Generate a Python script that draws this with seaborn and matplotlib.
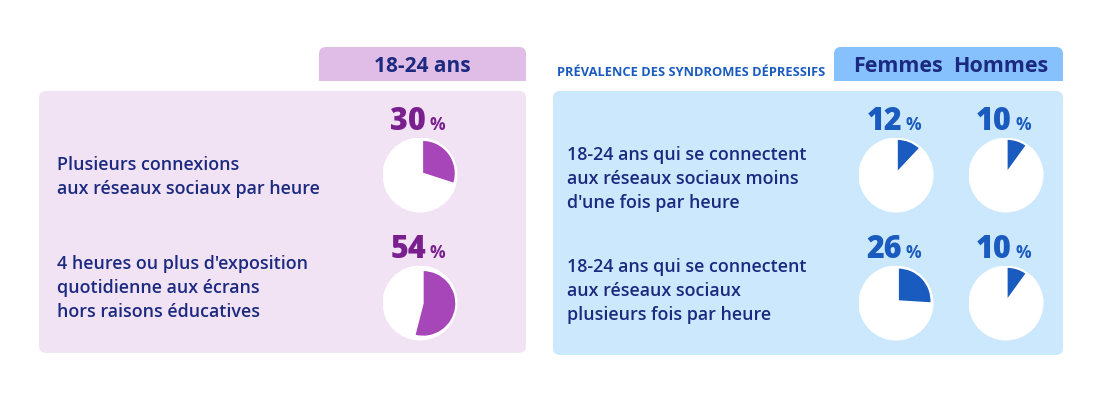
import matplotlib
matplotlib.use("Agg")
import matplotlib.pyplot as plt
import seaborn as sns
from matplotlib.patches import FancyBboxPatch, Rectangle, Circle

# data
left_header = "18-24 ans"
left_labels = ["Plusieurs connexions\naux réseaux sociaux par heure",
               "4 heures ou plus d'exposition\nquotidienne aux écrans\nhors raisons éducatives"]
left_values = [30, 54]

right_title = "PRÉVALENCE DES SYNDROMES DÉPRESSIFS"
right_headers = ["Femmes", "Hommes"]
right_labels = ["18-24 ans qui se connectent\naux réseaux sociaux moins\nd'une fois par heure",
                "18-24 ans qui se connectent\naux réseaux sociaux\nplusieurs fois par heure"]
femmes = [12, 26]
hommes = [10, 10]

# colours
navy = "#1b2a80"
purple_txt, purple_pie = "#7a1f8e", "#a746b9"
blue_txt, blue_pie = "#1a5bbf", "#1a5bbf"
left_bg, left_tab = "#f2e3f4", "#e0bde6"
right_bg, right_tab = "#cce8fc", "#87c1fd"

sns.set_theme(style="white")
plt.rcParams["font.family"] = ["Open Sans", "DejaVu Sans"]

W, H = 1106, 399
fig = plt.figure(figsize=(W / 100, H / 100), dpi=100)
ax = fig.add_axes([0, 0, 1, 1])
ax.set_xlim(0, W)
ax.set_ylim(H, 0)
ax.axis("off")


def panel(x0, x1, y0, y1, color):
    ax.add_patch(FancyBboxPatch((x0, y0), x1 - x0, y1 - y0,
                                boxstyle="round,pad=0,rounding_size=7",
                                fc=color, ec="none"))


def tab(x0, x1, y0, y1, color):
    panel(x0, x1, y0, y1, color)
    ax.add_patch(Rectangle((x0, y0 + 10), x1 - x0, y1 - y0 - 10, fc=color, ec="none"))


# backgrounds
panel(39, 526, 91, 353, left_bg)
tab(319, 526, 47, 81, left_tab)
panel(553, 1063, 91, 355, right_bg)
tab(834, 1063, 47, 81, right_tab)

ax.text(422, 72, left_header, ha="center", va="baseline", fontsize=15,
        fontweight="bold", color=navy)
ax.text(557, 76, right_title, ha="left", va="baseline", fontsize=9.3,
        fontweight="bold", color=blue_txt)
for hx, h in zip([898, 1001], right_headers):
    ax.text(hx, 72, h, ha="center", va="baseline", fontsize=15.5,
            fontweight="bold", color=navy)

row_y = [175, 303]
R = 37.5


def block(x, yc, label):
    lines = label.split("\n")
    n = len(lines)
    for i, line in enumerate(lines):
        yb = yc + (i - (n - 1) / 2) * 24 + 6.5
        ax.text(x, yb, line, ha="left", va="baseline", fontsize=12.9,
                fontweight="semibold", color=navy)


def pie(cx, cy, v, col, tcol):
    pax = fig.add_axes([(cx - R) / W, 1 - (cy + R) / H, 2 * R / W, 2 * R / H])
    pax.add_patch(Circle((0, 0), 1, fc="white", ec="none"))
    pax.pie([v, 100 - v], colors=[col, "none"], explode=[0.08, 0], radius=0.88,
            startangle=90, counterclock=False, center=(0, 0))
    pax.set_xlim(-1, 1)
    pax.set_ylim(-1, 1)
    pax.set_aspect("equal")
    pax.axis("off")
    ax.text(cx + 6, cy - 45, str(v), ha="right", va="baseline", fontsize=22,
            fontweight="heavy", color=tcol)
    ax.text(cx + 10, cy - 45, "%", ha="left", va="baseline", fontsize=12.5,
            fontweight="bold", color=tcol)


text_left_y = [175.5, 286.5]
text_right_y = [178, 290]

for i in range(2):
    block(57, text_left_y[i], left_labels[i])
    pie(420, row_y[i], left_values[i], purple_pie, purple_txt)
    block(567, text_right_y[i], right_labels[i])
    pie(896, row_y[i], femmes[i], blue_pie, blue_txt)
    pie(1006, row_y[i], hommes[i], blue_pie, blue_txt)

fig.savefig("out.png", dpi=100)
